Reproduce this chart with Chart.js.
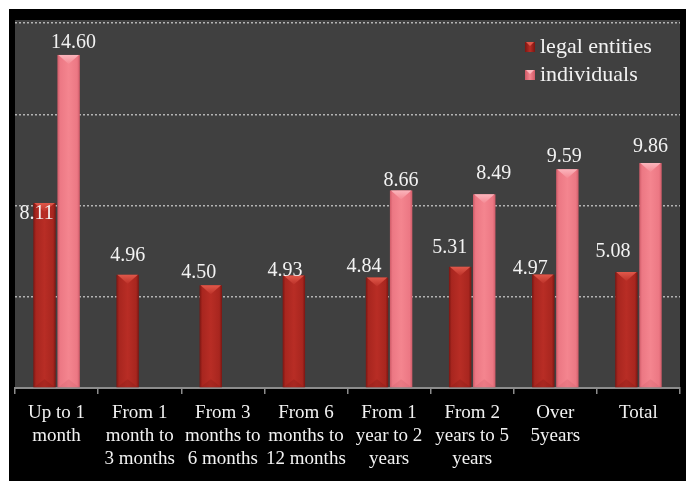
<!DOCTYPE html>
<html><head><meta charset="utf-8">
<script src="https://cdn.jsdelivr.net/npm/chart.js@4.4.1/dist/chart.umd.min.js"></script>
<style>html,body{margin:0;padding:0;background:#fff;}#wrap{width:691px;height:486px;}</style>
</head><body><div id="wrap"><canvas id="c" width="691" height="486"></canvas></div>
<script>
const categories = [
  ["Up to 1","month"],
  ["From 1","month to","3 months"],
  ["From 3","months to","6 months"],
  ["From 6","months to","12 months"],
  ["From 1","year to 2","years"],
  ["From 2","years to 5","years"],
  ["Over","5years"],
  ["Total"]
];
const seriesNames = ["legal entities", "individuals"];
const legalEntities = [8.11, 4.96, 4.50, 4.93, 4.84, 5.31, 4.97, 5.08];
const individuals = [14.60, null, null, null, 8.66, 8.49, 9.59, 9.86];
const yTicks = [0, 4, 8, 12, 16];

// label placement offsets (style, relative to bar top centre)
const labelOffsets = [
  [[-8,11],[0,-19],[-12,-12.5],[-9,-4.5],[-13,-10.5],[-10.5,-19.5],[-13,-5.5],[-13.5,-20.5]],
  [[5,-12],null,null,null,[0,-10],[9.5,-20.5],[-3,-12],[0,-16]]
];
const palette = [
  {edge:'#7a1612', mid:'#a8261f', hi:'#b82d25', top:'#e0584a'},
  {edge:'#cf5b68', mid:'#ec7884', hi:'#f4858f', top:'#fbb5bc'}
];
const SERIF = "'Liberation Serif','Times New Roman',serif";

const framePlugin = {
  id: 'frame',
  beforeDraw(chart) {
    const {ctx, chartArea: a, width, height} = chart;
    ctx.save();
    ctx.fillStyle = '#ffffff';
    ctx.fillRect(0, 0, width, height);
    ctx.fillStyle = '#000000';
    ctx.fillRect(9, 9, width - 9 - 5, height - 9 - 5);
    ctx.fillStyle = '#404040';
    ctx.fillRect(a.left, a.top - 3, a.right - a.left, a.bottom - a.top + 3);
    ctx.restore();
  }
};

const bevelPlugin = {
  id: 'bevel',
  afterDatasetsDraw(chart) {
    const ctx = chart.ctx;
    chart.data.datasets.forEach((ds, di) => {
      const meta = chart.getDatasetMeta(di);
      const p = palette[di];
      meta.data.forEach((el, i) => {
        if (ds.data[i] == null) return;
        const {x, y, base, width} = el.getProps(['x','y','base','width'], true);
        const L = x - width/2, R = x + width/2;
        ctx.save();
        const g = ctx.createLinearGradient(L, 0, R, 0);
        g.addColorStop(0, p.edge);
        g.addColorStop(0.12, p.mid);
        g.addColorStop(0.5, p.hi);
        g.addColorStop(0.88, p.mid);
        g.addColorStop(1, p.edge);
        ctx.fillStyle = g;
        ctx.fillRect(L, y, width, base - y);
        const tg = ctx.createLinearGradient(0, y, 0, y + 10);
        tg.addColorStop(0, p.top);
        tg.addColorStop(1, p.hi);
        ctx.fillStyle = tg;
        ctx.beginPath();
        ctx.moveTo(L + 1, y);
        ctx.lineTo(R - 1, y);
        ctx.lineTo(x, y + 9);
        ctx.closePath();
        ctx.fill();
        ctx.globalAlpha = 0.25;
        ctx.fillStyle = p.edge;
        ctx.beginPath();
        ctx.moveTo(L + 1, base);
        ctx.lineTo(R - 1, base);
        ctx.lineTo(x, base - 8);
        ctx.closePath();
        ctx.fill();
        ctx.restore();
      });
    });
  }
};

const labelPlugin = {
  id: 'vals',
  afterDatasetsDraw(chart) {
    const ctx = chart.ctx;
    ctx.save();
    ctx.font = '20px ' + SERIF;
    ctx.fillStyle = '#f2f2f2';
    ctx.textAlign = 'center';
    ctx.textBaseline = 'middle';
    chart.data.datasets.forEach((ds, di) => {
      const meta = chart.getDatasetMeta(di);
      meta.data.forEach((el, i) => {
        const v = ds.data[i];
        if (v == null) return;
        const off = labelOffsets[di][i] || [0, -12];
        const {x, y} = el.getProps(['x','y'], true);
        ctx.fillText(v.toFixed(2), x + off[0], y + off[1]);
      });
    });
    ctx.restore();
  }
};

const legendPlugin = {
  id: 'customLegend',
  afterDraw(chart) {
    const ctx = chart.ctx;
    ctx.save();
    ctx.font = '22px ' + SERIF;
    ctx.textBaseline = 'middle';
    ctx.textAlign = 'left';
    seriesNames.forEach((name, i) => {
      const cy = 47 + i * 28;
      const p = palette[i];
      const g = ctx.createLinearGradient(525, 0, 535, 0);
      g.addColorStop(0, p.edge); g.addColorStop(0.5, p.hi); g.addColorStop(1, p.edge);
      ctx.fillStyle = g;
      ctx.fillRect(525, cy - 5, 10, 10);
      ctx.fillStyle = p.top;
      ctx.beginPath();
      ctx.moveTo(526, cy - 5); ctx.lineTo(534, cy - 5); ctx.lineTo(530, cy - 1); ctx.closePath();
      ctx.fill();
      ctx.fillStyle = '#f2f2f2';
      ctx.fillText(name, 540, cy);
    });
    ctx.restore();
  }
};

new Chart(document.getElementById('c'), {
  type: 'bar',
  data: {
    labels: categories,
    datasets: [
      {label: seriesNames[0], data: legalEntities, backgroundColor: 'rgba(0,0,0,0)'},
      {label: seriesNames[1], data: individuals, backgroundColor: 'rgba(0,0,0,0)'}
    ]
  },
  options: {
    responsive: false,
    animation: false,
    devicePixelRatio: 1,
    layout: {padding: {top: 23, left: 15, right: 11, bottom: 0}},
    datasets: {bar: {categoryPercentage: 0.58, barPercentage: 0.93}},
    plugins: {legend: {display: false}, tooltip: {enabled: false}},
    scales: {
      x: {
        grid: {display: true, drawOnChartArea: false, drawTicks: true, tickLength: 6, color: '#8c8c8c', lineWidth: 1.5, offset: true},
        border: {display: true, color: '#8c8c8c', width: 2},
        ticks: {color: '#f2f2f2', font: {family: SERIF, size: 19, lineHeight: '23px'}, padding: 8, maxRotation: 0, autoSkip: false},
        afterFit: s => { s.height = 98; }
      },
      y: {
        min: yTicks[0], max: yTicks[yTicks.length - 1],
        afterBuildTicks: s => { s.ticks = yTicks.map(v => ({value: v})); },
        ticks: {display: false},
        grid: {drawTicks: false, lineWidth: 1.5, color: c => c.tick && c.tick.value === 0 ? 'rgba(0,0,0,0)' : '#b4b4b4'},
        border: {display: false, dash: [2, 2]},
        afterFit: s => { s.width = 0; }
      }
    }
  },
  plugins: [framePlugin, bevelPlugin, labelPlugin, legendPlugin]
});
</script></body></html>
